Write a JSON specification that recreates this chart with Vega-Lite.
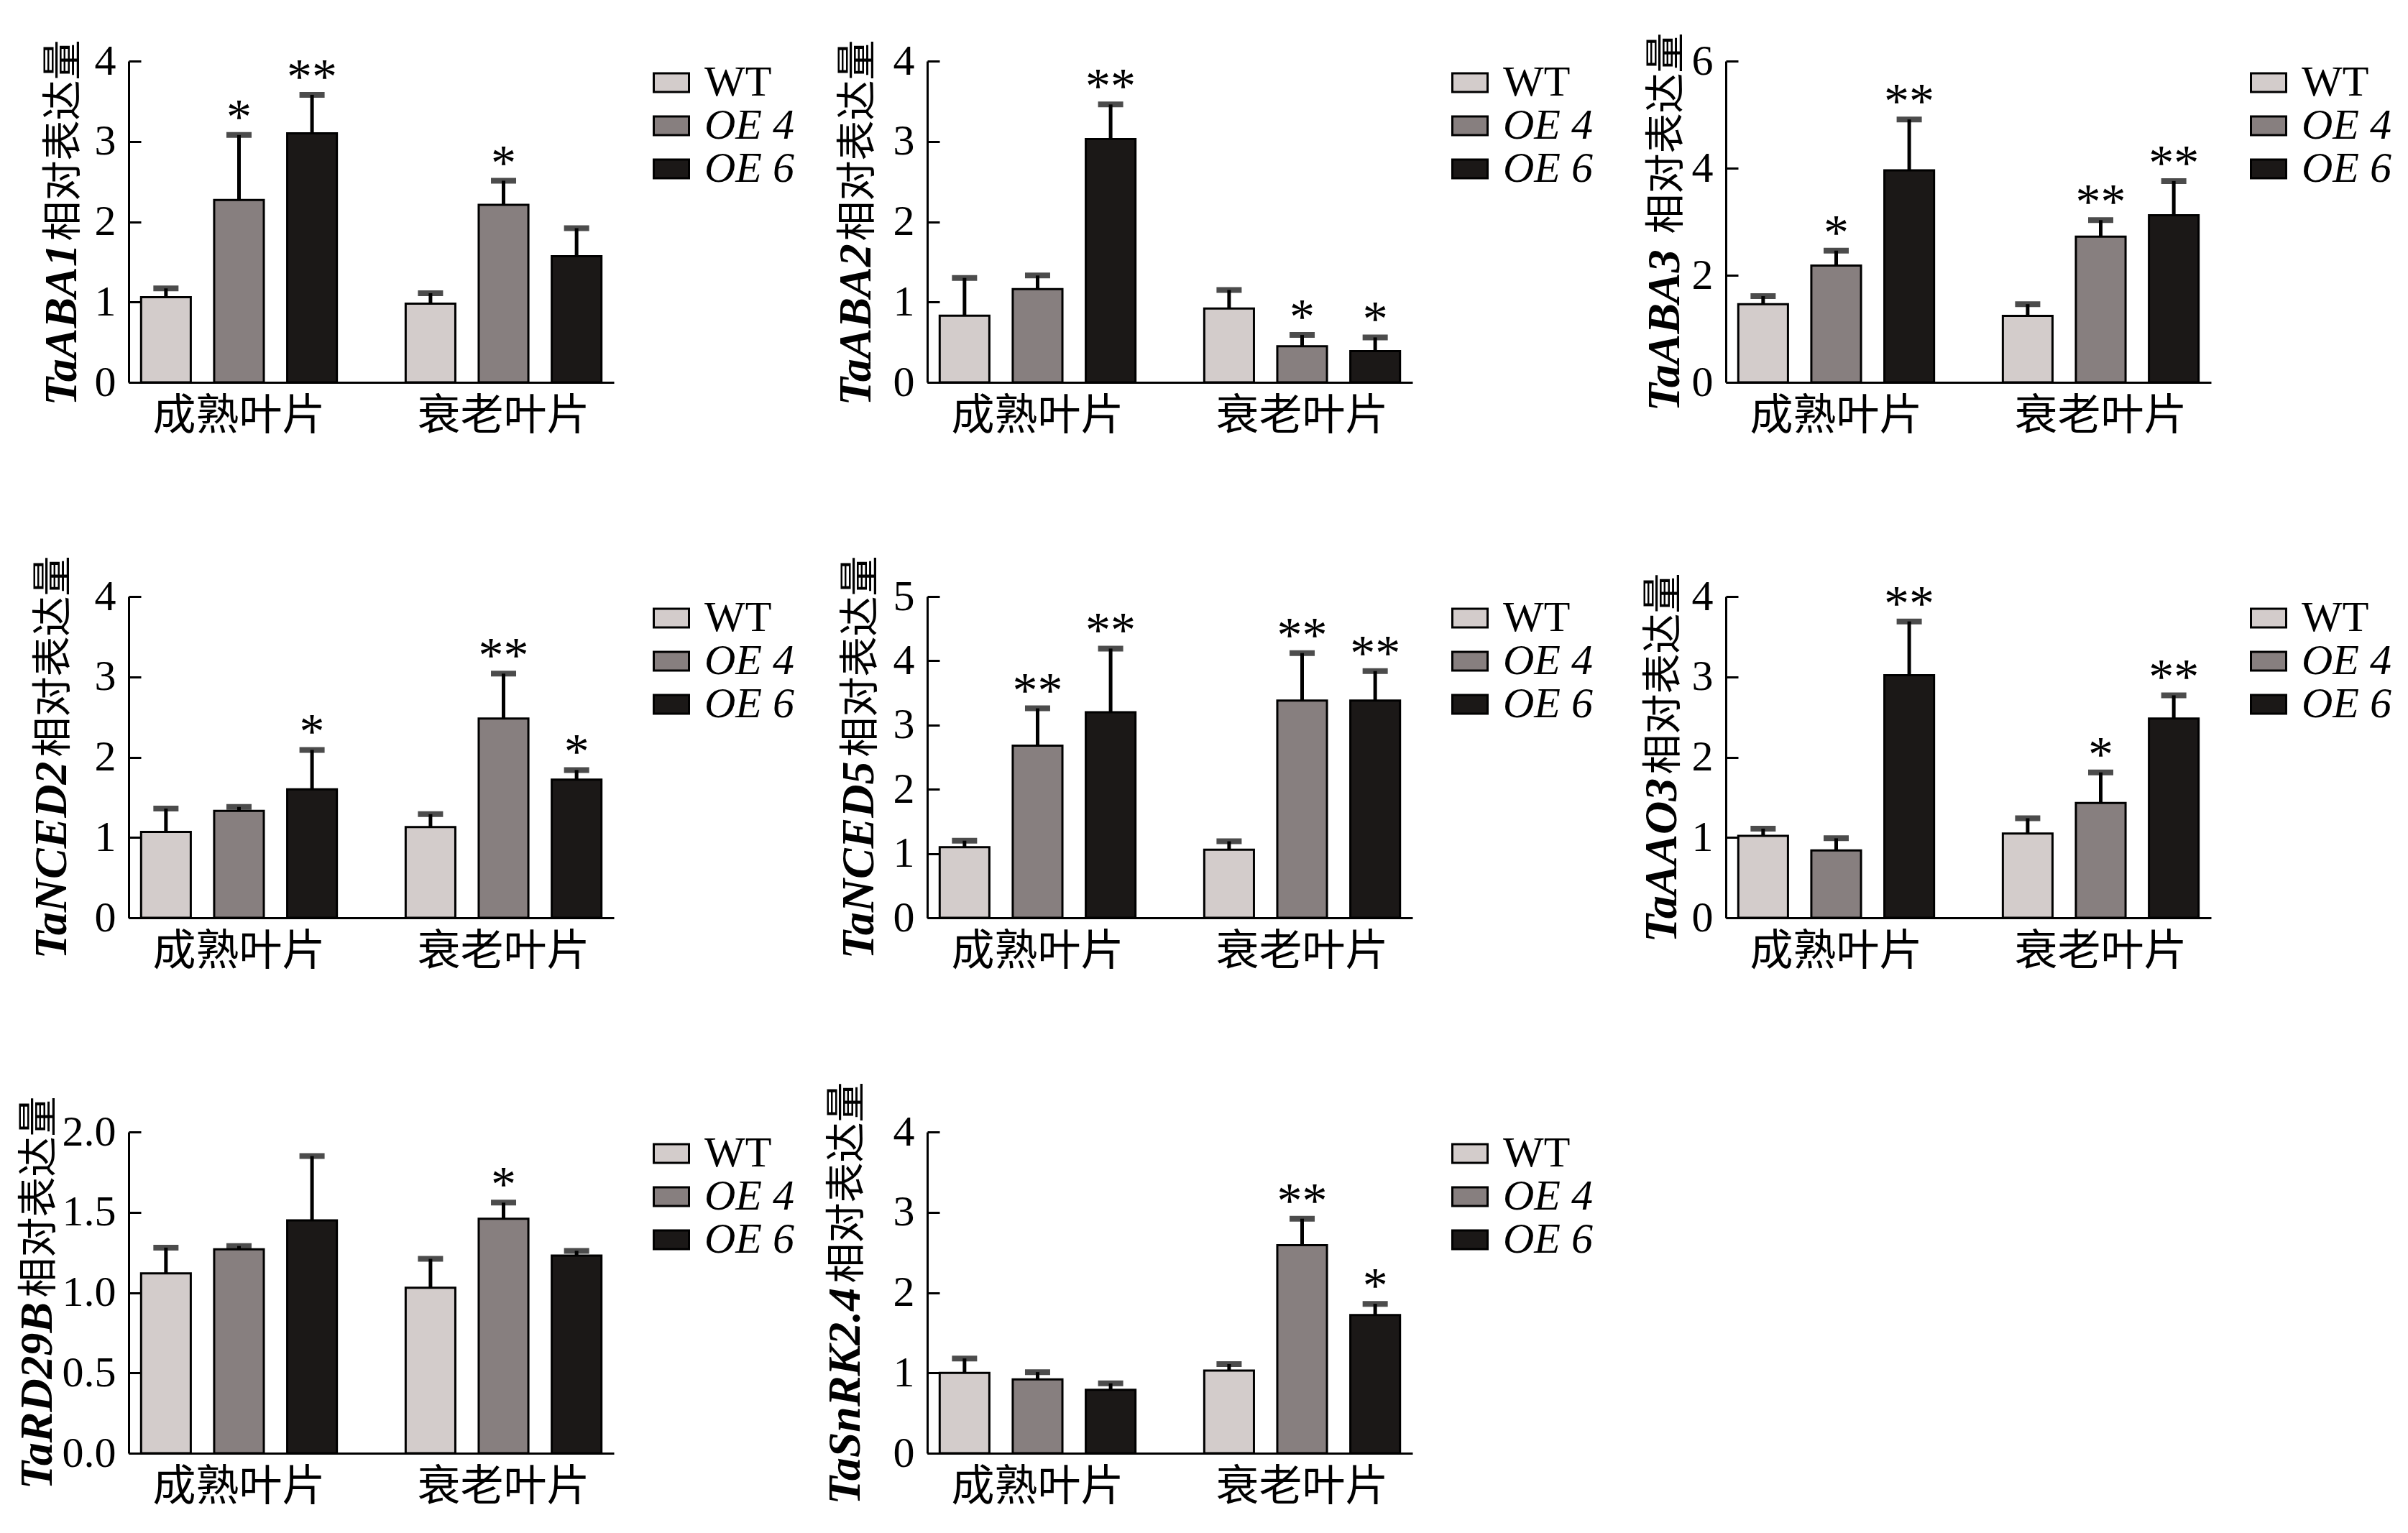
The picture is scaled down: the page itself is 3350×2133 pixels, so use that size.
{
  "$schema": "https://vega.github.io/schema/vega-lite/v6.json",
  "background": "white",
  "padding": {"left": 20, "top": 45, "right": 5, "bottom": 5},
  "datasets": {
    "d": [
      {"g": "TaABA1", "t": "成熟叶片", "l": "WT", "v": 1.06, "e": 1.17, "s": ""},
      {"g": "TaABA1", "t": "成熟叶片", "l": "OE 4", "v": 2.27, "e": 3.08, "s": "*"},
      {"g": "TaABA1", "t": "成熟叶片", "l": "OE 6", "v": 3.10, "e": 3.58, "s": "**"},
      {"g": "TaABA1", "t": "衰老叶片", "l": "WT", "v": 0.98, "e": 1.11, "s": ""},
      {"g": "TaABA1", "t": "衰老叶片", "l": "OE 4", "v": 2.21, "e": 2.51, "s": "*"},
      {"g": "TaABA1", "t": "衰老叶片", "l": "OE 6", "v": 1.57, "e": 1.92, "s": ""},
      {"g": "TaABA2", "t": "成熟叶片", "l": "WT", "v": 0.83, "e": 1.30, "s": ""},
      {"g": "TaABA2", "t": "成熟叶片", "l": "OE 4", "v": 1.16, "e": 1.33, "s": ""},
      {"g": "TaABA2", "t": "成熟叶片", "l": "OE 6", "v": 3.03, "e": 3.46, "s": "**"},
      {"g": "TaABA2", "t": "衰老叶片", "l": "WT", "v": 0.92, "e": 1.15, "s": ""},
      {"g": "TaABA2", "t": "衰老叶片", "l": "OE 4", "v": 0.45, "e": 0.59, "s": "*"},
      {"g": "TaABA2", "t": "衰老叶片", "l": "OE 6", "v": 0.39, "e": 0.56, "s": "*"},
      {"g": "TaABA3", "t": "成熟叶片", "l": "WT", "v": 1.46, "e": 1.61, "s": ""},
      {"g": "TaABA3", "t": "成熟叶片", "l": "OE 4", "v": 2.18, "e": 2.46, "s": "*"},
      {"g": "TaABA3", "t": "成熟叶片", "l": "OE 6", "v": 3.96, "e": 4.91, "s": "**"},
      {"g": "TaABA3", "t": "衰老叶片", "l": "WT", "v": 1.24, "e": 1.46, "s": ""},
      {"g": "TaABA3", "t": "衰老叶片", "l": "OE 4", "v": 2.72, "e": 3.03, "s": "**"},
      {"g": "TaABA3", "t": "衰老叶片", "l": "OE 6", "v": 3.12, "e": 3.76, "s": "**"},
      {"g": "TaNCED2", "t": "成熟叶片", "l": "WT", "v": 1.07, "e": 1.36, "s": ""},
      {"g": "TaNCED2", "t": "成熟叶片", "l": "OE 4", "v": 1.33, "e": 1.38, "s": ""},
      {"g": "TaNCED2", "t": "成熟叶片", "l": "OE 6", "v": 1.60, "e": 2.09, "s": "*"},
      {"g": "TaNCED2", "t": "衰老叶片", "l": "WT", "v": 1.13, "e": 1.29, "s": ""},
      {"g": "TaNCED2", "t": "衰老叶片", "l": "OE 4", "v": 2.48, "e": 3.04, "s": "**"},
      {"g": "TaNCED2", "t": "衰老叶片", "l": "OE 6", "v": 1.72, "e": 1.84, "s": "*"},
      {"g": "TaNCED5", "t": "成熟叶片", "l": "WT", "v": 1.10, "e": 1.20, "s": ""},
      {"g": "TaNCED5", "t": "成熟叶片", "l": "OE 4", "v": 2.68, "e": 3.26, "s": "**"},
      {"g": "TaNCED5", "t": "成熟叶片", "l": "OE 6", "v": 3.20, "e": 4.19, "s": "**"},
      {"g": "TaNCED5", "t": "衰老叶片", "l": "WT", "v": 1.06, "e": 1.19, "s": ""},
      {"g": "TaNCED5", "t": "衰老叶片", "l": "OE 4", "v": 3.38, "e": 4.12, "s": "**"},
      {"g": "TaNCED5", "t": "衰老叶片", "l": "OE 6", "v": 3.38, "e": 3.84, "s": "**"},
      {"g": "TaAAO3", "t": "成熟叶片", "l": "WT", "v": 1.02, "e": 1.11, "s": ""},
      {"g": "TaAAO3", "t": "成熟叶片", "l": "OE 4", "v": 0.84, "e": 0.99, "s": ""},
      {"g": "TaAAO3", "t": "成熟叶片", "l": "OE 6", "v": 3.02, "e": 3.69, "s": "**"},
      {"g": "TaAAO3", "t": "衰老叶片", "l": "WT", "v": 1.05, "e": 1.24, "s": ""},
      {"g": "TaAAO3", "t": "衰老叶片", "l": "OE 4", "v": 1.43, "e": 1.81, "s": "*"},
      {"g": "TaAAO3", "t": "衰老叶片", "l": "OE 6", "v": 2.48, "e": 2.77, "s": "**"},
      {"g": "TaRD29B", "t": "成熟叶片", "l": "WT", "v": 1.12, "e": 1.28, "s": ""},
      {"g": "TaRD29B", "t": "成熟叶片", "l": "OE 4", "v": 1.27, "e": 1.29, "s": ""},
      {"g": "TaRD29B", "t": "成熟叶片", "l": "OE 6", "v": 1.45, "e": 1.85, "s": ""},
      {"g": "TaRD29B", "t": "衰老叶片", "l": "WT", "v": 1.03, "e": 1.21, "s": ""},
      {"g": "TaRD29B", "t": "衰老叶片", "l": "OE 4", "v": 1.46, "e": 1.56, "s": "*"},
      {"g": "TaRD29B", "t": "衰老叶片", "l": "OE 6", "v": 1.23, "e": 1.26, "s": ""},
      {"g": "TaSnRK2.4", "t": "成熟叶片", "l": "WT", "v": 1.00, "e": 1.18, "s": ""},
      {"g": "TaSnRK2.4", "t": "成熟叶片", "l": "OE 4", "v": 0.92, "e": 1.01, "s": ""},
      {"g": "TaSnRK2.4", "t": "成熟叶片", "l": "OE 6", "v": 0.79, "e": 0.87, "s": ""},
      {"g": "TaSnRK2.4", "t": "衰老叶片", "l": "WT", "v": 1.03, "e": 1.11, "s": ""},
      {"g": "TaSnRK2.4", "t": "衰老叶片", "l": "OE 4", "v": 2.59, "e": 2.92, "s": "**"},
      {"g": "TaSnRK2.4", "t": "衰老叶片", "l": "OE 6", "v": 1.72, "e": 1.86, "s": "*"}
    ]
  },
  "columns": 3,
  "bounds": "flush",
  "spacing": {"row": 298, "column": 436},
  "resolve": {
    "scale": {"color": "independent", "x": "independent", "y": "independent", "xOffset": "independent"},
    "legend": {"color": "independent"},
    "axis": {"x": "independent", "y": "independent"}
  },
  "concat": [
    {
      "data": {"name": "d"},
      "width": 675, "height": 447,
      "transform": [{"filter": "datum.g === 'TaABA1'"}],
      "encoding": {
        "x": {"field": "t", "type": "nominal", "sort": ["成熟叶片", "衰老叶片"], "scale": {"paddingInner": 0.26, "paddingOuter": 0.047}, "axis": {"title": null}},
        "xOffset": {"field": "l", "type": "nominal", "sort": ["WT", "OE 4", "OE 6"], "scale": {"paddingInner": 0.32, "paddingOuter": 0}}
      },
      "layer": [
        {"mark": {"type": "bar", "stroke": "black", "strokeWidth": 3},
         "encoding": {
           "y": {"field": "v", "type": "quantitative", "scale": {"domain": [0, 4], "nice": false}, "axis": {"orient": "left", "values": [0, 1, 2, 3, 4], "title": "TaABA1", "titleX": -74, "titleY": 479}},
           "color": {"field": "l", "type": "nominal", "sort": ["WT", "OE 4", "OE 6"], "scale": {"domain": ["WT", "OE 4", "OE 6"], "range": ["#D3CCCB", "#877F7F", "#1B1817"]}, "legend": {"labelFontStyle": {"expr": "datum.value === 'WT' ? 'normal' : 'italic'"}}}
         }},
        {"mark": {"type": "rule", "strokeWidth": 5, "color": "black"},
         "encoding": {"y": {"field": "v", "type": "quantitative", "axis": {"orient": "left", "title": "相对表达量", "titleX": -74, "titleY": 250, "labels": false, "ticks": false, "domain": false, "titleFont": "Noto Sans CJK SC", "titleFontSize": 56, "titleFontWeight": "normal", "titleFontStyle": "normal"}}, "y2": {"field": "e"}}},
        {"mark": {"type": "tick", "color": "black", "thickness": 8, "size": 35},
         "encoding": {"y": {"field": "e", "type": "quantitative", "axis": null}}},
        {"mark": {"type": "text", "font": "Liberation Serif", "fontSize": 70, "baseline": "alphabetic", "dy": -2, "color": "black"},
         "encoding": {"y": {"field": "e", "type": "quantitative", "axis": null}, "text": {"field": "s"}}}
      ],
      "resolve": {"axis": {"y": "independent"}}
    },
    {
      "data": {"name": "d"},
      "width": 675, "height": 447,
      "transform": [{"filter": "datum.g === 'TaABA2'"}],
      "encoding": {
        "x": {"field": "t", "type": "nominal", "sort": ["成熟叶片", "衰老叶片"], "scale": {"paddingInner": 0.26, "paddingOuter": 0.047}, "axis": {"title": null}},
        "xOffset": {"field": "l", "type": "nominal", "sort": ["WT", "OE 4", "OE 6"], "scale": {"paddingInner": 0.32, "paddingOuter": 0}}
      },
      "layer": [
        {"mark": {"type": "bar", "stroke": "black", "strokeWidth": 3},
         "encoding": {
           "y": {"field": "v", "type": "quantitative", "scale": {"domain": [0, 4], "nice": false}, "axis": {"orient": "left", "values": [0, 1, 2, 3, 4], "title": "TaABA2", "titleX": -80, "titleY": 479}},
           "color": {"field": "l", "type": "nominal", "sort": ["WT", "OE 4", "OE 6"], "scale": {"domain": ["WT", "OE 4", "OE 6"], "range": ["#D3CCCB", "#877F7F", "#1B1817"]}, "legend": {"labelFontStyle": {"expr": "datum.value === 'WT' ? 'normal' : 'italic'"}}}
         }},
        {"mark": {"type": "rule", "strokeWidth": 5, "color": "black"},
         "encoding": {"y": {"field": "v", "type": "quantitative", "axis": {"orient": "left", "title": "相对表达量", "titleX": -80, "titleY": 250, "labels": false, "ticks": false, "domain": false, "titleFont": "Noto Sans CJK SC", "titleFontSize": 56, "titleFontWeight": "normal", "titleFontStyle": "normal"}}, "y2": {"field": "e"}}},
        {"mark": {"type": "tick", "color": "black", "thickness": 8, "size": 35},
         "encoding": {"y": {"field": "e", "type": "quantitative", "axis": null}}},
        {"mark": {"type": "text", "font": "Liberation Serif", "fontSize": 70, "baseline": "alphabetic", "dy": -2, "color": "black"},
         "encoding": {"y": {"field": "e", "type": "quantitative", "axis": null}, "text": {"field": "s"}}}
      ],
      "resolve": {"axis": {"y": "independent"}}
    },
    {
      "data": {"name": "d"},
      "width": 675, "height": 447,
      "transform": [{"filter": "datum.g === 'TaABA3'"}],
      "encoding": {
        "x": {"field": "t", "type": "nominal", "sort": ["成熟叶片", "衰老叶片"], "scale": {"paddingInner": 0.26, "paddingOuter": 0.047}, "axis": {"title": null}},
        "xOffset": {"field": "l", "type": "nominal", "sort": ["WT", "OE 4", "OE 6"], "scale": {"paddingInner": 0.32, "paddingOuter": 0}}
      },
      "layer": [
        {"mark": {"type": "bar", "stroke": "black", "strokeWidth": 3},
         "encoding": {
           "y": {"field": "v", "type": "quantitative", "scale": {"domain": [0, 6], "nice": false}, "axis": {"orient": "left", "values": [0, 2, 4, 6], "title": "TaABA3", "titleX": -66, "titleY": 487}},
           "color": {"field": "l", "type": "nominal", "sort": ["WT", "OE 4", "OE 6"], "scale": {"domain": ["WT", "OE 4", "OE 6"], "range": ["#D3CCCB", "#877F7F", "#1B1817"]}, "legend": {"labelFontStyle": {"expr": "datum.value === 'WT' ? 'normal' : 'italic'"}}}
         }},
        {"mark": {"type": "rule", "strokeWidth": 5, "color": "black"},
         "encoding": {"y": {"field": "v", "type": "quantitative", "axis": {"orient": "left", "title": "相对表达量", "titleX": -66, "titleY": 240, "labels": false, "ticks": false, "domain": false, "titleFont": "Noto Sans CJK SC", "titleFontSize": 56, "titleFontWeight": "normal", "titleFontStyle": "normal"}}, "y2": {"field": "e"}}},
        {"mark": {"type": "tick", "color": "black", "thickness": 8, "size": 35},
         "encoding": {"y": {"field": "e", "type": "quantitative", "axis": null}}},
        {"mark": {"type": "text", "font": "Liberation Serif", "fontSize": 70, "baseline": "alphabetic", "dy": -2, "color": "black"},
         "encoding": {"y": {"field": "e", "type": "quantitative", "axis": null}, "text": {"field": "s"}}}
      ],
      "resolve": {"axis": {"y": "independent"}}
    },
    {
      "data": {"name": "d"},
      "width": 675, "height": 447,
      "transform": [{"filter": "datum.g === 'TaNCED2'"}],
      "encoding": {
        "x": {"field": "t", "type": "nominal", "sort": ["成熟叶片", "衰老叶片"], "scale": {"paddingInner": 0.26, "paddingOuter": 0.047}, "axis": {"title": null}},
        "xOffset": {"field": "l", "type": "nominal", "sort": ["WT", "OE 4", "OE 6"], "scale": {"paddingInner": 0.32, "paddingOuter": 0}}
      },
      "layer": [
        {"mark": {"type": "bar", "stroke": "black", "strokeWidth": 3},
         "encoding": {
           "y": {"field": "v", "type": "quantitative", "scale": {"domain": [0, 4], "nice": false}, "axis": {"orient": "left", "values": [0, 1, 2, 3, 4], "title": "TaNCED2", "titleX": -88, "titleY": 504}},
           "color": {"field": "l", "type": "nominal", "sort": ["WT", "OE 4", "OE 6"], "scale": {"domain": ["WT", "OE 4", "OE 6"], "range": ["#D3CCCB", "#877F7F", "#1B1817"]}, "legend": {"labelFontStyle": {"expr": "datum.value === 'WT' ? 'normal' : 'italic'"}}}
         }},
        {"mark": {"type": "rule", "strokeWidth": 5, "color": "black"},
         "encoding": {"y": {"field": "v", "type": "quantitative", "axis": {"orient": "left", "title": "相对表达量", "titleX": -88, "titleY": 223, "labels": false, "ticks": false, "domain": false, "titleFont": "Noto Sans CJK SC", "titleFontSize": 56, "titleFontWeight": "normal", "titleFontStyle": "normal"}}, "y2": {"field": "e"}}},
        {"mark": {"type": "tick", "color": "black", "thickness": 8, "size": 35},
         "encoding": {"y": {"field": "e", "type": "quantitative", "axis": null}}},
        {"mark": {"type": "text", "font": "Liberation Serif", "fontSize": 70, "baseline": "alphabetic", "dy": -2, "color": "black"},
         "encoding": {"y": {"field": "e", "type": "quantitative", "axis": null}, "text": {"field": "s"}}}
      ],
      "resolve": {"axis": {"y": "independent"}}
    },
    {
      "data": {"name": "d"},
      "width": 675, "height": 447,
      "transform": [{"filter": "datum.g === 'TaNCED5'"}],
      "encoding": {
        "x": {"field": "t", "type": "nominal", "sort": ["成熟叶片", "衰老叶片"], "scale": {"paddingInner": 0.26, "paddingOuter": 0.047}, "axis": {"title": null}},
        "xOffset": {"field": "l", "type": "nominal", "sort": ["WT", "OE 4", "OE 6"], "scale": {"paddingInner": 0.32, "paddingOuter": 0}}
      },
      "layer": [
        {"mark": {"type": "bar", "stroke": "black", "strokeWidth": 3},
         "encoding": {
           "y": {"field": "v", "type": "quantitative", "scale": {"domain": [0, 5], "nice": false}, "axis": {"orient": "left", "values": [0, 1, 2, 3, 4, 5], "title": "TaNCED5", "titleX": -76, "titleY": 504}},
           "color": {"field": "l", "type": "nominal", "sort": ["WT", "OE 4", "OE 6"], "scale": {"domain": ["WT", "OE 4", "OE 6"], "range": ["#D3CCCB", "#877F7F", "#1B1817"]}, "legend": {"labelFontStyle": {"expr": "datum.value === 'WT' ? 'normal' : 'italic'"}}}
         }},
        {"mark": {"type": "rule", "strokeWidth": 5, "color": "black"},
         "encoding": {"y": {"field": "v", "type": "quantitative", "axis": {"orient": "left", "title": "相对表达量", "titleX": -76, "titleY": 223, "labels": false, "ticks": false, "domain": false, "titleFont": "Noto Sans CJK SC", "titleFontSize": 56, "titleFontWeight": "normal", "titleFontStyle": "normal"}}, "y2": {"field": "e"}}},
        {"mark": {"type": "tick", "color": "black", "thickness": 8, "size": 35},
         "encoding": {"y": {"field": "e", "type": "quantitative", "axis": null}}},
        {"mark": {"type": "text", "font": "Liberation Serif", "fontSize": 70, "baseline": "alphabetic", "dy": -2, "color": "black"},
         "encoding": {"y": {"field": "e", "type": "quantitative", "axis": null}, "text": {"field": "s"}}}
      ],
      "resolve": {"axis": {"y": "independent"}}
    },
    {
      "data": {"name": "d"},
      "width": 675, "height": 447,
      "transform": [{"filter": "datum.g === 'TaAAO3'"}],
      "encoding": {
        "x": {"field": "t", "type": "nominal", "sort": ["成熟叶片", "衰老叶片"], "scale": {"paddingInner": 0.26, "paddingOuter": 0.047}, "axis": {"title": null}},
        "xOffset": {"field": "l", "type": "nominal", "sort": ["WT", "OE 4", "OE 6"], "scale": {"paddingInner": 0.32, "paddingOuter": 0}}
      },
      "layer": [
        {"mark": {"type": "bar", "stroke": "black", "strokeWidth": 3},
         "encoding": {
           "y": {"field": "v", "type": "quantitative", "scale": {"domain": [0, 4], "nice": false}, "axis": {"orient": "left", "values": [0, 1, 2, 3, 4], "title": "TaAAO3", "titleX": -70, "titleY": 481}},
           "color": {"field": "l", "type": "nominal", "sort": ["WT", "OE 4", "OE 6"], "scale": {"domain": ["WT", "OE 4", "OE 6"], "range": ["#D3CCCB", "#877F7F", "#1B1817"]}, "legend": {"labelFontStyle": {"expr": "datum.value === 'WT' ? 'normal' : 'italic'"}}}
         }},
        {"mark": {"type": "rule", "strokeWidth": 5, "color": "black"},
         "encoding": {"y": {"field": "v", "type": "quantitative", "axis": {"orient": "left", "title": "相对表达量", "titleX": -70, "titleY": 247, "labels": false, "ticks": false, "domain": false, "titleFont": "Noto Sans CJK SC", "titleFontSize": 56, "titleFontWeight": "normal", "titleFontStyle": "normal"}}, "y2": {"field": "e"}}},
        {"mark": {"type": "tick", "color": "black", "thickness": 8, "size": 35},
         "encoding": {"y": {"field": "e", "type": "quantitative", "axis": null}}},
        {"mark": {"type": "text", "font": "Liberation Serif", "fontSize": 70, "baseline": "alphabetic", "dy": -2, "color": "black"},
         "encoding": {"y": {"field": "e", "type": "quantitative", "axis": null}, "text": {"field": "s"}}}
      ],
      "resolve": {"axis": {"y": "independent"}}
    },
    {
      "data": {"name": "d"},
      "width": 675, "height": 447,
      "transform": [{"filter": "datum.g === 'TaRD29B'"}],
      "encoding": {
        "x": {"field": "t", "type": "nominal", "sort": ["成熟叶片", "衰老叶片"], "scale": {"paddingInner": 0.26, "paddingOuter": 0.047}, "axis": {"title": null}},
        "xOffset": {"field": "l", "type": "nominal", "sort": ["WT", "OE 4", "OE 6"], "scale": {"paddingInner": 0.32, "paddingOuter": 0}}
      },
      "layer": [
        {"mark": {"type": "bar", "stroke": "black", "strokeWidth": 3},
         "encoding": {
           "y": {"field": "v", "type": "quantitative", "scale": {"domain": [0, 2], "nice": false}, "axis": {"orient": "left", "values": [0, 0.5, 1, 1.5, 2], "format": ".1f", "title": "TaRD29B", "titleX": -108, "titleY": 497}},
           "color": {"field": "l", "type": "nominal", "sort": ["WT", "OE 4", "OE 6"], "scale": {"domain": ["WT", "OE 4", "OE 6"], "range": ["#D3CCCB", "#877F7F", "#1B1817"]}, "legend": {"labelFontStyle": {"expr": "datum.value === 'WT' ? 'normal' : 'italic'"}}}
         }},
        {"mark": {"type": "rule", "strokeWidth": 5, "color": "black"},
         "encoding": {"y": {"field": "v", "type": "quantitative", "axis": {"orient": "left", "title": "相对表达量", "titleX": -108, "titleY": 230, "labels": false, "ticks": false, "domain": false, "titleFont": "Noto Sans CJK SC", "titleFontSize": 56, "titleFontWeight": "normal", "titleFontStyle": "normal"}}, "y2": {"field": "e"}}},
        {"mark": {"type": "tick", "color": "black", "thickness": 8, "size": 35},
         "encoding": {"y": {"field": "e", "type": "quantitative", "axis": null}}},
        {"mark": {"type": "text", "font": "Liberation Serif", "fontSize": 70, "baseline": "alphabetic", "dy": -2, "color": "black"},
         "encoding": {"y": {"field": "e", "type": "quantitative", "axis": null}, "text": {"field": "s"}}}
      ],
      "resolve": {"axis": {"y": "independent"}}
    },
    {
      "data": {"name": "d"},
      "width": 675, "height": 447,
      "transform": [{"filter": "datum.g === 'TaSnRK2.4'"}],
      "encoding": {
        "x": {"field": "t", "type": "nominal", "sort": ["成熟叶片", "衰老叶片"], "scale": {"paddingInner": 0.26, "paddingOuter": 0.047}, "axis": {"title": null}},
        "xOffset": {"field": "l", "type": "nominal", "sort": ["WT", "OE 4", "OE 6"], "scale": {"paddingInner": 0.32, "paddingOuter": 0}}
      },
      "layer": [
        {"mark": {"type": "bar", "stroke": "black", "strokeWidth": 3},
         "encoding": {
           "y": {"field": "v", "type": "quantitative", "scale": {"domain": [0, 4], "nice": false}, "axis": {"orient": "left", "values": [0, 1, 2, 3, 4], "title": "TaSnRK2.4", "titleX": -95, "titleY": 518}},
           "color": {"field": "l", "type": "nominal", "sort": ["WT", "OE 4", "OE 6"], "scale": {"domain": ["WT", "OE 4", "OE 6"], "range": ["#D3CCCB", "#877F7F", "#1B1817"]}, "legend": {"labelFontStyle": {"expr": "datum.value === 'WT' ? 'normal' : 'italic'"}}}
         }},
        {"mark": {"type": "rule", "strokeWidth": 5, "color": "black"},
         "encoding": {"y": {"field": "v", "type": "quantitative", "axis": {"orient": "left", "title": "相对表达量", "titleX": -95, "titleY": 210, "labels": false, "ticks": false, "domain": false, "titleFont": "Noto Sans CJK SC", "titleFontSize": 56, "titleFontWeight": "normal", "titleFontStyle": "normal"}}, "y2": {"field": "e"}}},
        {"mark": {"type": "tick", "color": "black", "thickness": 8, "size": 35},
         "encoding": {"y": {"field": "e", "type": "quantitative", "axis": null}}},
        {"mark": {"type": "text", "font": "Liberation Serif", "fontSize": 70, "baseline": "alphabetic", "dy": -2, "color": "black"},
         "encoding": {"y": {"field": "e", "type": "quantitative", "axis": null}, "text": {"field": "s"}}}
      ],
      "resolve": {"axis": {"y": "independent"}}
    }
  ],
  "config": {
    "font": "Liberation Serif",
    "view": {"stroke": null},
    "axis": {
      "grid": false,
      "domainColor": "black",
      "domainWidth": 3,
      "tickColor": "black",
      "tickWidth": 3,
      "labelColor": "black",
      "labelFont": "Liberation Serif",
      "labelFontSize": 60,
      "titleColor": "black"
    },
    "axisX": {
      "labelAngle": 0,
      "tickSize": -16,
      "labelPadding": 34,
      "labelFont": "Noto Sans CJK SC",
      "labelFontSize": 60,
      "labelBaseline": "top",
      "labelLimit": 1000
    },
    "axisY": {
      "tickSize": -17,
      "labelPadding": 35,
      "titleFont": "Liberation Serif",
      "titleFontSize": 64,
      "titleFontWeight": "bold",
      "titleFontStyle": "italic",
      "titleAngle": 270,
      "titleAlign": "left",
      "titleBaseline": "alphabetic",
      "titleLimit": 2000
    },
    "legend": {
      "orient": "right",
      "offset": 50,
      "title": null,
      "padding": 0,
      "symbolType": "M-1,-0.53H1V0.53H-1Z",
      "symbolSize": 2401,
      "symbolStrokeColor": "black",
      "symbolStrokeWidth": 3,
      "labelFont": "Liberation Serif",
      "labelFontSize": 60,
      "labelColor": "black",
      "labelOffset": 16,
      "rowPadding": 0
    }
  }
}
